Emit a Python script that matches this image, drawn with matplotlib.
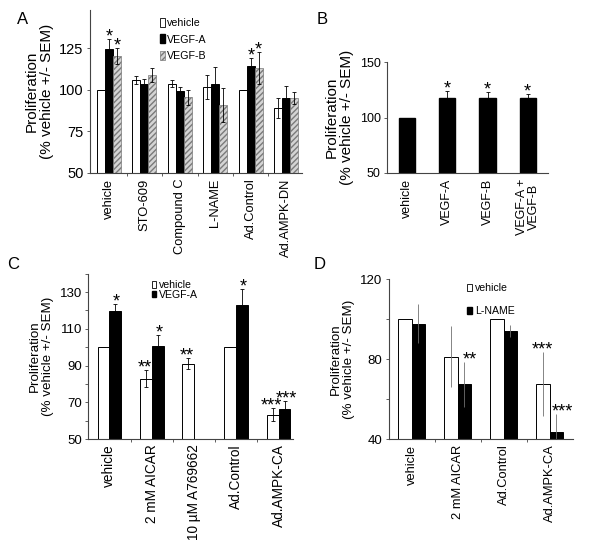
import numpy as np
import matplotlib
matplotlib.use("Agg")
import matplotlib.pyplot as plt
from matplotlib.patches import Patch

plt.rcParams['font.family'] = ['Liberation Sans', 'DejaVu Sans']

# ---------------- data ----------------
a_groups = ['vehicle', 'STO-609', 'Compound C', 'L-NAME', 'Ad.Control', 'Ad.AMPK-DN']
a_vehicle = [100, 105.8, 103.6, 101.6, 100, 88.9]
a_vehicle_err = [0, 2.5, 2.0, 7.0, 0, 6.0]
a_vegfa = [124.4, 103.2, 99.4, 103.2, 114.5, 94.8]
a_vegfa_err = [5.8, 3.0, 2.5, 10.5, 4.7, 7.6]
a_vegfb = [120.2, 108.9, 95.6, 90.9, 112.9, 95.0]
a_vegfb_err = [5.0, 4.0, 4.5, 10.0, 9.5, 3.8]
a_stars_vegfa = ['*', '', '', '', '*', '']
a_stars_vegfb = ['*', '', '', '', '*', '']

b_groups = ['vehicle', 'VEGF-A', 'VEGF-B', 'VEGF-A +\nVEGF-B']
b_values = [100, 118.0, 117.4, 117.4]
b_err = [0, 6.0, 6.0, 3.6]
b_stars = ['', '*', '*', '*']

c_groups = ['vehicle', '2 mM AICAR', '10 µM A769662', 'Ad.Control', 'Ad.AMPK-CA']
c_vehicle = [100, 82.8, 90.9, 100, 63.2]
c_vehicle_err = [0, 4.5, 3.0, 0, 3.5]
c_vegfa = [119.5, 100.4, np.nan, 122.7, 66.5]
c_vegfa_err = [4.0, 6.0, 0, 9.0, 4.0]
c_stars_vehicle = ['', '**', '**', '', '***']
c_stars_vegfa = ['*', '*', '', '*', '***']

d_groups = ['vehicle', '2 mM AICAR', 'Ad.Control', 'Ad.AMPK-CA']
d_vehicle = [100, 81.2, 100, 67.7]
d_vehicle_err = [0, 15.3, 0, 16.0]
d_lname = [97.7, 67.3, 94.0, 43.5]
d_lname_err = [9.6, 11.2, 3.0, 9.0]
d_stars_vehicle = ['', '', '', '***']
d_stars_lname = ['', '**', '', '***']

YLABEL = 'Proliferation\n(% vehicle +/- SEM)'
SPINE = '#444444'
HATCH_EDGE = '#7a7a7a'
HATCH_FACE = '#d4d4d4'

fig = plt.figure(figsize=(6, 5.44), dpi=100)


def style_axes(ax, n, xlim, ylim, labels, xfs, yfs, lfs):
    ax.set_xlim(*xlim)
    ax.set_ylim(*ylim)
    for s in ['top', 'right']:
        ax.spines[s].set_visible(False)
    for s in ['left', 'bottom']:
        ax.spines[s].set_color(SPINE)
        ax.spines[s].set_linewidth(0.8)
    ax.set_xticks(np.arange(n))
    ax.set_xticklabels(labels, rotation=90, fontsize=xfs, linespacing=0.95)
    ax.set_xticks(np.arange(n - 1) + 0.5, minor=True)
    ax.tick_params(axis='x', which='major', length=0, pad=4)
    ax.tick_params(axis='x', which='minor', length=2.5, width=0.6, color=SPINE)
    ax.tick_params(axis='y', which='both', length=2.5, width=0.6, color=SPINE,
                   labelsize=yfs, pad=2)
    ax.set_ylabel(YLABEL, fontsize=lfs, labelpad=4, linespacing=1.1)


def stars(ax, xs, tops, marks, fs=13, off=-1.8, dx=0):
    for x, t, m in zip(xs, tops, marks):
        if m:
            ax.annotate(m, xy=(x, t), xytext=(dx, off), textcoords='offset points',
                        ha='center', va='baseline', fontsize=fs)


# ---------------- Panel A ----------------
axA = fig.add_axes([0.15, 0.682, 0.353, 0.300])
xA = np.arange(len(a_groups))
wA = 0.225
eb = dict(ecolor='black', elinewidth=0.6, capsize=1.2, capthick=0.6)
axA.bar(xA - wA, a_vehicle, wA, yerr=a_vehicle_err, color='white', edgecolor='black',
        linewidth=0.7, error_kw=eb, zorder=2)
axA.bar(xA, a_vegfa, wA, yerr=a_vegfa_err, color='black', edgecolor='black',
        linewidth=0.7, error_kw=eb, zorder=2)
axA.bar(xA + wA, a_vegfb, wA, yerr=a_vegfb_err, color=HATCH_FACE, edgecolor=HATCH_EDGE,
        hatch='//////', linewidth=0.5, error_kw=eb, zorder=2)
style_axes(axA, len(a_groups), (-0.535, 5.44), (50, 148), a_groups, 9.3, 10.5, 11)
axA.set_yticks([50, 75, 100, 125])
stars(axA, xA, np.array(a_vegfa) + np.array(a_vegfa_err), a_stars_vegfa)
stars(axA, xA + wA, np.array(a_vegfb) + np.array(a_vegfb_err), a_stars_vegfb)
hA = [Patch(facecolor='white', edgecolor='black', linewidth=0.6),
      Patch(facecolor='black', edgecolor='black'),
      Patch(facecolor=HATCH_FACE, edgecolor=HATCH_EDGE, hatch='//////', linewidth=0.5)]
axA.legend(hA, ['vehicle', 'VEGF-A', 'VEGF-B'], loc='upper left', bbox_to_anchor=(0.33, 0.95),
           frameon=False, fontsize=7.7, handlelength=0.45, handleheight=0.9,
           handletextpad=0.25, labelspacing=0.6, borderpad=0, borderaxespad=0)
fig.text(0.028, 0.965, 'A', fontsize=12, va='center', ha='left')

# ---------------- Panel B ----------------
axB = fig.add_axes([0.645, 0.682, 0.268, 0.204])
xB = np.arange(len(b_groups))
axB.bar(xB, b_values, 0.4, yerr=b_err, color='black', edgecolor='black',
        error_kw=eb, zorder=2)
style_axes(axB, len(b_groups), (-0.5, 3.5), (50, 150), b_groups, 9, 9, 11)
axB.set_yticks([50, 100, 150])
axB.tick_params(axis='x', which='minor', length=0)
stars(axB, xB, np.array(b_values) + np.array(b_err), b_stars)
fig.text(0.528, 0.965, 'B', fontsize=12, va='center', ha='left')

# ---------------- Panel C ----------------
axC = fig.add_axes([0.147, 0.193, 0.342, 0.304])
xC = np.arange(len(c_groups))
wC = 0.28
axC.bar(xC - wC / 2, c_vehicle, wC, yerr=c_vehicle_err, color='white', edgecolor='black',
        linewidth=0.7, error_kw=eb, zorder=2)
axC.bar(xC + wC / 2, c_vegfa, wC, yerr=c_vegfa_err, color='black', edgecolor='black',
        linewidth=0.7, error_kw=eb, zorder=2)
style_axes(axC, len(c_groups), (-0.5, 4.35), (50, 140), c_groups, 9.8, 9.5, 9.6)
axC.set_yticks([50, 70, 90, 110, 130])
axC.set_yticks([60, 80, 100, 120, 140], minor=True)
stars(axC, xC - wC / 2, np.array(c_vehicle) + np.array(c_vehicle_err), c_stars_vehicle, dx=-1)
stars(axC, xC + wC / 2, np.array(c_vegfa) + np.array(c_vegfa_err), c_stars_vegfa, dx=1)
hC = [Patch(facecolor='white', edgecolor='black', linewidth=0.6),
      Patch(facecolor='black', edgecolor='black')]
axC.legend(hC, ['vehicle', 'VEGF-A'], loc='upper left', bbox_to_anchor=(0.31, 0.96),
           frameon=False, fontsize=7.6, handlelength=0.4, handleheight=0.5,
           handletextpad=0.3, labelspacing=-0.05, borderpad=0, borderaxespad=0)
fig.text(0.012, 0.513, 'C', fontsize=12, va='center', ha='left')

# ---------------- Panel D ----------------
axD = fig.add_axes([0.648, 0.193, 0.307, 0.294])
xD = np.arange(len(d_groups))
wD = 0.3
ebD = dict(ecolor='#707070', elinewidth=0.6, capsize=0)
axD.bar(xD - wD / 2, d_vehicle, wD, yerr=d_vehicle_err, color='white', edgecolor='black',
        linewidth=0.7, error_kw=ebD, zorder=2)
axD.bar(xD + wD / 2, d_lname, wD, yerr=d_lname_err, color='black', edgecolor='black',
        linewidth=0.7, error_kw=ebD, zorder=2)
style_axes(axD, len(d_groups), (-0.495, 3.51), (40, 120), d_groups, 9.3, 9.5, 9.6)
axD.set_yticks([40, 80, 120])
axD.set_yticks([60, 100], minor=True)
stars(axD, xD - wD / 2, np.array(d_vehicle) + np.array(d_vehicle_err), d_stars_vehicle)
stars(axD, xD + wD / 2, np.array(d_lname) + np.array(d_lname_err), d_stars_lname, dx=4)
hD = [Patch(facecolor='white', edgecolor='black', linewidth=0.6),
      Patch(facecolor='black', edgecolor='black')]
axD.legend(hD, ['vehicle', 'L-NAME'], loc='upper left', bbox_to_anchor=(0.425, 0.975),
           frameon=False, fontsize=7.6, handlelength=0.45, handleheight=0.6,
           handletextpad=0.3, labelspacing=1.25, borderpad=0, borderaxespad=0)
fig.text(0.522, 0.513, 'D', fontsize=12, va='center', ha='left')

fig.savefig('out.png', dpi=100)
